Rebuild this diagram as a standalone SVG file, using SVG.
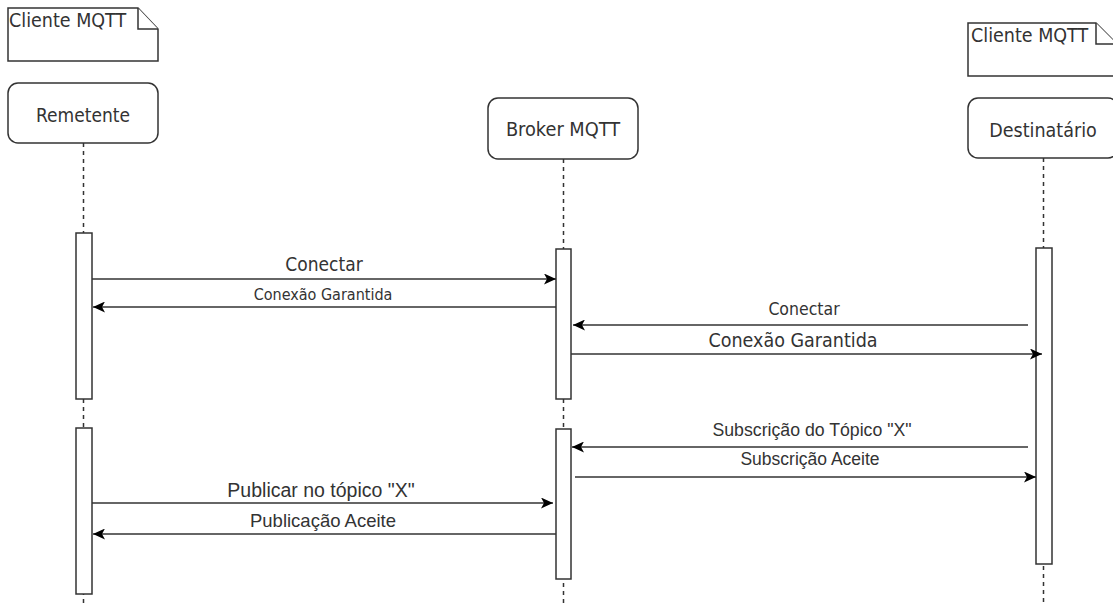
<svg xmlns="http://www.w3.org/2000/svg" width="1113" height="606" viewBox="0 0 1113 606">
  <style>
    .box { fill: #ffffff; stroke: #333333; stroke-width: 1.5; }
    .life { stroke: #333333; stroke-width: 1.5; stroke-dasharray: 4 4; fill: none; }
    .act { fill: #ffffff; stroke: #333333; stroke-width: 1.5; }
    .msg { stroke: #333333; stroke-width: 1.5; fill: none; }
    .t { font-family: "DejaVu Sans Condensed", "DejaVu Sans", sans-serif; font-stretch: condensed; fill: #333333; }
    .a { font-family: "Liberation Sans", Arial, sans-serif; fill: #333333; }
  </style>
  <defs>
    <marker id="head" viewBox="0 0 12 11" refX="12" refY="5.5" markerWidth="12" markerHeight="11" markerUnits="userSpaceOnUse" orient="auto">
      <path d="M0,0 L12,5.5 L0,11 L3,5.5 Z" fill="#000000"/>
    </marker>
  </defs>

  <!-- lifelines (dashed) -->
  <g id="lifelines">
    <line class="life" x1="83.5" y1="143" x2="83.5" y2="606"/>
    <line class="life" x1="563.5" y1="159" x2="563.5" y2="606"/>
    <line class="life" x1="1043.5" y1="158" x2="1043.5" y2="606"/>
  </g>

  <g id="note-sender">
    <path class="box" d="M8,8 H138 L158,29 V61 H8 Z"/>
    <path class="box" d="M138,8 V29 H158" fill="none"/>
    <text class="t" x="9" y="27" font-size="19.5">Cliente MQTT</text>
  </g>

  <g id="note-receiver">
    <path class="box" d="M968,23 H1096 L1117,44 V76 H968 Z"/>
    <path class="box" d="M1096,23 V44 H1117" fill="none"/>
    <text class="t" x="971" y="42" font-size="19.5">Cliente MQTT</text>
  </g>

  <g id="remetente">
    <rect class="box" x="8" y="83" width="150" height="60" rx="10"/>
    <text class="t" x="83" y="122" font-size="19" text-anchor="middle">Remetente</text>
  </g>

  <g id="broker">
    <rect class="box" x="488" y="98" width="150" height="61" rx="10"/>
    <text class="t" x="563" y="136" font-size="19.8" text-anchor="middle">Broker MQTT</text>
  </g>

  <g id="destinatario">
    <rect class="box" x="968" y="98" width="150" height="60" rx="10"/>
    <text class="t" x="1043" y="137" font-size="19.5" text-anchor="middle">Destinatário</text>
  </g>

  <!-- activation bars -->
  <g id="activations">
    <rect class="act" x="76" y="233" width="16" height="166"/>
    <rect class="act" x="76" y="428" width="16" height="166"/>
    <rect class="act" x="556" y="249" width="15" height="150"/>
    <rect class="act" x="556" y="429" width="15" height="150"/>
    <rect class="act" x="1036" y="248" width="16" height="316"/>
  </g>

  <!-- messages -->
  <g id="connectors">
    <line class="msg" x1="92" y1="279" x2="556" y2="279" marker-end="url(#head)"/>
    <line class="msg" x1="556" y1="307" x2="93" y2="307" marker-end="url(#head)"/>
    <line class="msg" x1="1028" y1="325" x2="573" y2="325" marker-end="url(#head)"/>
    <line class="msg" x1="571" y1="354" x2="1042" y2="354" marker-end="url(#head)"/>
    <line class="msg" x1="1028" y1="447" x2="572" y2="447" marker-end="url(#head)"/>
    <line class="msg" x1="575" y1="477" x2="1036" y2="477" marker-end="url(#head)"/>
    <line class="msg" x1="92" y1="503" x2="553" y2="503" marker-end="url(#head)"/>
    <line class="msg" x1="556" y1="534" x2="93" y2="534" marker-end="url(#head)"/>
  </g>

  <g id="labels">
    <text class="t" x="324" y="271" font-size="19" text-anchor="middle">Conectar</text>
    <text class="t" x="323" y="300" font-size="16" text-anchor="middle">Conexão Garantida</text>
    <text class="t" x="804" y="315" font-size="17.5" text-anchor="middle">Conectar</text>
    <text class="t" x="793" y="347" font-size="19.5" text-anchor="middle">Conexão Garantida</text>
    <text class="a" x="812" y="436" font-size="17.7" text-anchor="middle">Subscrição do Tópico "X"</text>
    <text class="a" x="810" y="465" font-size="17.5" text-anchor="middle">Subscrição Aceite</text>
    <text class="a" x="321" y="497" font-size="19.5" text-anchor="middle">Publicar no tópico "X"</text>
    <text class="a" x="323" y="527" font-size="18.5" text-anchor="middle">Publicação Aceite</text>
  </g>
</svg>
